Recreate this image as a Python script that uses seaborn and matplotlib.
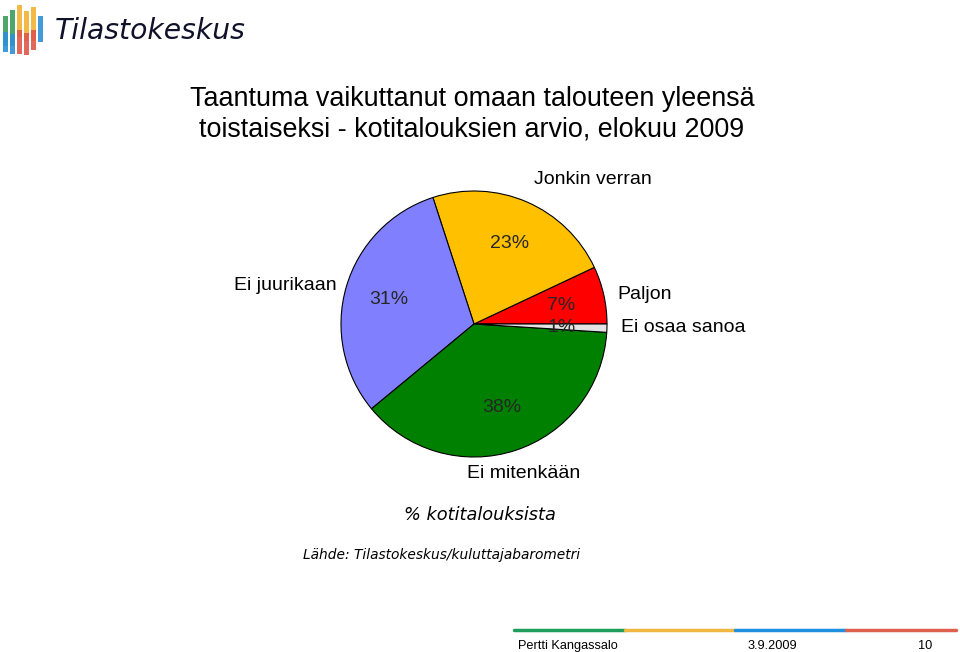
import seaborn as sns
import matplotlib.pyplot as plt
from matplotlib.patches import Rectangle

# data
categories = ['Paljon', 'Jonkin verran', 'Ei juurikaan', 'Ei mitenkään', 'Ei osaa sanoa']
shares = [7, 23, 31, 38, 1]
slice_colors = ['#FF0000', '#FFC000', '#8080FF', '#008000', '#E4E4E4']

title_lines = ['Taantuma vaikuttanut omaan talouteen yleensä',
               'toistaiseksi - kotitalouksien arvio, elokuu 2009']

sns.set_theme(style='white')
plt.rcParams['font.family'] = ['Liberation Sans', 'DejaVu Sans']
plt.rcParams['text.color'] = 'black'

W, H = 960, 652
fig = plt.figure(figsize=(W / 100, H / 100), dpi=100)
fig.patch.set_facecolor('white')


def px(x, y):
    return x / W, 1 - y / H


# pie: centre (474, 324), radius 133 px
half = 150
ax = fig.add_axes([(474 - half) / W, 1 - (324 + half) / H, 2 * half / W, 2 * half / H])
wedges, _ = ax.pie(shares, colors=slice_colors, startangle=0, counterclock=True,
                   wedgeprops=dict(edgecolor='black', linewidth=0.8))
lim = half / 133
ax.set_xlim(-lim, lim)
ax.set_ylim(-lim, lim)
ax.axis('off')

# percentage labels inside
pct_pos = [(561, 306), (510, 243), (389, 300), (502, 408), (562, 327)]
for val, (x, y) in zip(shares, pct_pos):
    fig.text(*px(x, y), f'{val}%', ha='center', va='center', fontsize=14, color='#262626')

# category labels outside
lab_pos = [(617, 295, 'left'), (593, 180, 'center'), (285, 285, 'center'),
           (524, 474, 'center'), (621, 328, 'left')]
for cat, (x, y, ha) in zip(categories, lab_pos):
    fig.text(*px(x, y), cat, ha=ha, va='center', fontsize=14)

# title
fig.text(*px(472, 99), title_lines[0], ha='center', va='center', fontsize=19.4)
fig.text(*px(472, 129), title_lines[1], ha='center', va='center', fontsize=19.4)

# notes
fig.text(*px(480, 515), '% kotitalouksista', ha='center', va='center',
         fontsize=12.8, style='italic', family='DejaVu Sans')
fig.text(*px(442, 555), 'Lähde: Tilastokeskus/kuluttajabarometri', ha='center', va='center',
         fontsize=9.9, style='italic', family='DejaVu Sans')

# logo
bars = [(3, 16, 30, '#3A9E5C'), (10, 10, 36, '#3A9E5C'), (17, 5, 32, '#F2B233'),
        (24, 11, 30, '#F2B233'), (31, 7, 34, '#F2B233'), (38, 16, 26, '#2E8FD8'),
        (3, 32, 20, '#2E8FD8'), (10, 34, 20, '#2E8FD8'), (17, 30, 24, '#E0574A'),
        (24, 33, 22, '#E0574A'), (31, 30, 20, '#E0574A')]
for x, y, h, c in bars:
    fig.patches.append(Rectangle(px(x, y + h), 5 / W, h / H, transform=fig.transFigure,
                                 facecolor=c, edgecolor='none', alpha=0.9))
fig.text(*px(55, 31), 'Tilastokeskus', ha='left', va='center', fontsize=20.3,
         style='italic', color='#10122A', family='DejaVu Sans')

# footer
for i, c in enumerate(['#1E9E5A', '#F0B840', '#1E90E0', '#E06050']):
    x0 = 514 + i * 110.5
    fig.add_artist(plt.Line2D([x0 / W, (x0 + 110.5) / W], [1 - 630 / H] * 2,
                              transform=fig.transFigure, color=c, linewidth=2.5))
fig.text(*px(518, 646), 'Pertti Kangassalo', ha='left', va='center', fontsize=9.2)
fig.text(*px(772, 646), '3.9.2009', ha='center', va='center', fontsize=9.2)
fig.text(*px(925, 646), '10', ha='center', va='center', fontsize=9.2)

fig.savefig('out.png', dpi=100)
